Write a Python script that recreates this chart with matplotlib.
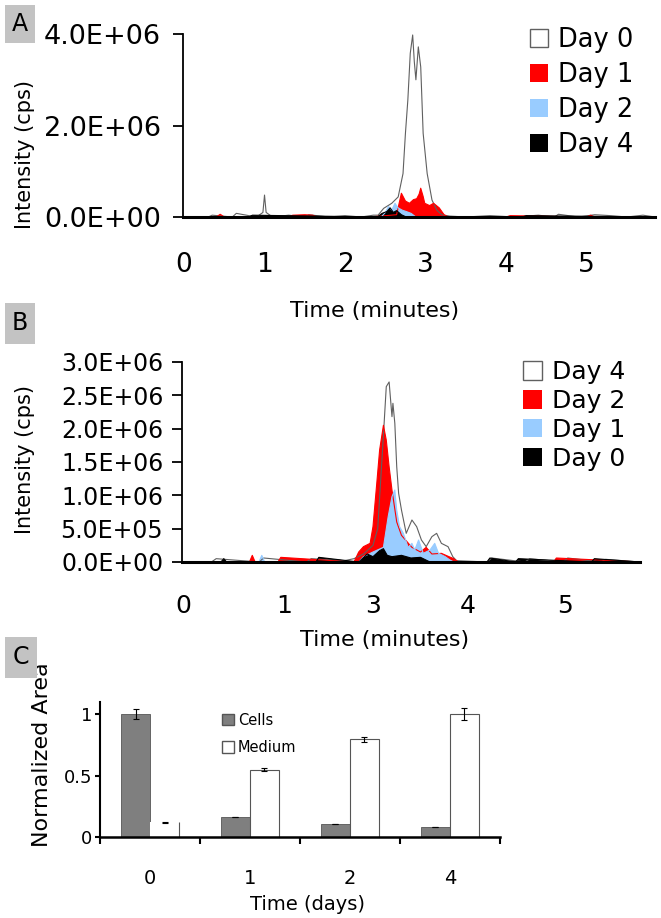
import matplotlib
matplotlib.use("Agg")
import matplotlib.pyplot as plt
from matplotlib.patches import Patch, Rectangle

# ---------------- data (intensities in units of 1E+06 cps) ----------------
# panel A
a_day0_t = [0.0, 0.3, 0.35, 0.6, 0.65, 0.9, 0.98, 1.0, 1.02, 1.1, 1.3, 1.5, 1.55, 1.8, 2.0, 2.2,
            2.35, 2.41, 2.48, 2.58, 2.66, 2.72, 2.75, 2.78, 2.81, 2.84, 2.86, 2.88, 2.91, 2.94,
            2.97, 3.02, 3.08, 3.14, 3.2, 3.3, 3.5, 3.8, 4.1, 4.4, 4.6, 4.65, 4.9, 5.1, 5.3, 5.5,
            5.7, 5.85]
a_day0_v = [0, 0, 0.04, 0, 0.08, 0, 0.1, 0.48, 0.1, 0, 0.04, 0, 0.05, 0, 0.03, 0,
            0.04, 0.04, 0.19, 0.30, 0.44, 0.95, 1.83, 2.56, 3.58, 3.98, 3.4, 3.0, 3.72, 3.28,
            1.83, 0.95, 0.37, 0.15, 0.05, 0.02, 0, 0.03, 0, 0.04, 0, 0.06, 0, 0.05, 0.03, 0,
            0.04, 0]
a_day1_t = [0.0, 0.4, 0.45, 0.5, 1.3, 1.35, 1.5, 1.6, 1.65, 2.3, 2.64, 2.7, 2.75, 2.8, 2.85,
            2.89, 2.92, 2.94, 2.97, 2.99, 3.05, 3.1, 3.17, 3.23, 3.28, 4.0, 4.05, 5.0, 5.05, 5.1, 5.85]
a_day1_v = [0, 0, 0.06, 0, 0, 0.04, 0.05, 0.04, 0, 0, 0.05, 0.52, 0.35, 0.3, 0.38,
            0.4, 0.5, 0.63, 0.45, 0.3, 0.25, 0.3, 0.2, 0.05, 0, 0, 0.03, 0, 0.04, 0, 0]
a_day2_t = [0.0, 2.45, 2.5, 2.54, 2.58, 2.62, 2.66, 2.71, 2.76, 2.82, 2.88, 5.85]
a_day2_v = [0, 0, 0.1, 0.23, 0.15, 0.3, 0.2, 0.15, 0.12, 0.08, 0, 0]
a_day4_t = [0.0, 0.8, 0.85, 2.4, 2.46, 2.52, 2.56, 2.6, 2.64, 2.7, 2.76, 4.2, 4.25, 5.85]
a_day4_v = [0, 0, 0.04, 0, 0.08, 0.12, 0.2, 0.1, 0.14, 0.05, 0, 0, 0.03, 0]

# panel B
b_day4_t = [0.99, 1.3, 1.35, 1.8, 1.85, 2.3, 2.35, 2.7, 2.8, 2.9, 3.0, 3.05, 3.11, 3.14, 3.17,
            3.2, 3.21, 3.23, 3.25, 3.27, 3.3, 3.35, 3.41, 3.46, 3.51, 3.56, 3.62, 3.67, 3.72,
            3.79, 3.84, 3.88, 4.2, 4.25, 4.6, 4.65, 5.0, 5.05, 5.4, 5.45, 5.81]
b_day4_v = [0, 0, 0.05, 0, 0.06, 0, 0.05, 0.02, 0.05, 0.12, 0.25, 0.5, 1.9, 2.63, 2.70,
            2.18, 2.38, 2.08, 1.43, 1.03, 0.78, 0.43, 0.63, 0.53, 0.33, 0.23, 0.38, 0.43, 0.28,
            0.23, 0.08, 0.02, 0, 0.06, 0, 0.05, 0, 0.06, 0, 0.04, 0]
b_day2_t = [0.99, 1.7, 1.73, 1.76, 2.0, 2.03, 2.8, 2.81, 2.85, 2.9, 2.97, 3.0, 3.04, 3.07, 3.11,
            3.14, 3.17, 3.2, 3.25, 3.3, 3.41, 3.5, 3.56, 3.62, 3.72, 3.8, 3.85, 3.9, 4.9, 4.93, 5.81]
b_day2_v = [0, 0, 0.1, 0, 0, 0.07, 0, 0.03, 0.15, 0.23, 0.28, 0.53, 1.18, 1.68, 2.05,
            1.83, 1.43, 1.08, 0.6, 0.4, 0.22, 0.15, 0.22, 0.12, 0.13, 0.08, 0.05, 0, 0, 0.06, 0]
b_day1_t = [0.99, 1.8, 1.83, 1.86, 2.85, 2.9, 3.0, 3.11, 3.16, 3.2, 3.23, 3.25, 3.28, 3.32, 3.37,
            3.41, 3.44, 3.48, 3.53, 3.6, 3.65, 3.69, 3.76, 3.81, 3.85, 5.81]
b_day1_v = [0, 0, 0.1, 0, 0, 0.08, 0.15, 0.22, 0.68, 0.98, 1.08, 0.78, 0.53, 0.43, 0.22,
            0.28, 0.18, 0.33, 0.13, 0.18, 0.28, 0.13, 0.08, 0.03, 0, 0]
b_day0_t = [0.99, 1.4, 1.43, 1.46, 2.4, 2.43, 2.85, 2.94, 3.0, 3.07, 3.11, 3.15, 3.2, 3.3, 3.4,
            3.5, 3.6, 4.2, 4.23, 4.5, 4.53, 5.3, 5.33, 5.81]
b_day0_v = [0, 0, 0.05, 0, 0, 0.07, 0, 0.12, 0.08, 0.17, 0.2, 0.1, 0.08, 0.1, 0.06,
            0.07, 0, 0, 0.06, 0, 0.05, 0, 0.05, 0]

# panel C
days = ["0", "1", "2", "4"]
cells = [1.0, 0.165, 0.107, 0.082]
cells_err = [0.04, 0, 0, 0]
medium = [0.12, 0.55, 0.795, 1.0]
medium_err = [0.005, 0.015, 0.02, 0.05]

a_yticks = [0, 2.0e6, 4.0e6]
a_yticklabels = ["0.0E+00", "2.0E+06", "4.0E+06"]
a_xticks = [0, 1, 2, 3, 4, 5]
b_yticks = [0, 0.5e6, 1.0e6, 1.5e6, 2.0e6, 2.5e6, 3.0e6]
b_yticklabels = ["0.0E+00", "5.0E+05", "1.0E+06", "1.5E+06", "2.0E+06", "2.5E+06", "3.0E+06"]
b_xticks = [1.0, 2.07, 3.0, 4.0, 5.02]
b_xticklabels = ["0", "1", "3", "4", "5"]

RED = "#ff0000"
BLUE = "#99ccff"
OUTLINE = "#606060"
CELLS = "#7f7f7f"


def scale(v):
    return [x * 1e6 for x in v]


fig = plt.figure(figsize=(6.61, 9.18), dpi=100)


def chromatogram(ax, series, xlim, ymax):
    for t, v, face, edge in series:
        ax.fill_between(t, scale(v), 0, facecolor=face, edgecolor="none", lw=0)
        ax.plot(t, scale(v), color=edge, lw=0.8)
    ax.set_xlim(*xlim)
    ax.set_ylim(0, ymax)
    for s in ["top", "right"]:
        ax.spines[s].set_visible(False)
    ax.spines["bottom"].set_linewidth(2.2)
    ax.spines["left"].set_linewidth(1.3)
    ax.spines["bottom"].set_zorder(5)


legend_kw = dict(bbox_transform=fig.transFigure, loc="upper left", frameon=False,
                 borderpad=0, borderaxespad=0)

# ---------------- panel A ----------------
axA = fig.add_axes([0.2769, 0.7636, 0.7141, 0.1993])
chromatogram(axA, [
    (a_day0_t, a_day0_v, "white", OUTLINE),
    (a_day1_t, a_day1_v, RED, RED),
    (a_day2_t, a_day2_v, BLUE, BLUE),
    (a_day4_t, a_day4_v, "black", "black"),
], (-0.012, 5.85), 4.0e6)
axA.set_yticks(a_yticks)
axA.set_yticklabels(a_yticklabels)
axA.set_xticks(a_xticks)
axA.set_xticklabels([str(x) for x in a_xticks])
axA.tick_params(axis="y", length=7, width=1.3, pad=9, labelsize=19.5)
axA.tick_params(axis="x", length=0, pad=25, labelsize=19)
axA.set_xlabel("Time (minutes)", fontsize=16)
axA.xaxis.set_label_coords(0.405, -0.514)
axA.xaxis.label.set_va("center")
axA.set_ylabel("Intensity (cps)", fontsize=15)
axA.yaxis.set_label_coords(-0.335, 0.339)
axA.yaxis.label.set_va("center")
axA.legend(
    [Patch(facecolor="white", edgecolor=OUTLINE), Patch(facecolor=RED), Patch(facecolor=BLUE),
     Patch(facecolor="black")],
    ["Day 0", "Day 1", "Day 2", "Day 4"],
    bbox_to_anchor=(0.8018, 0.9706), fontsize=18.5, handlelength=0.7, handleheight=0.7,
    handletextpad=0.4, labelspacing=0.35, **legend_kw,
)

# ---------------- panel B ----------------
axB = fig.add_axes([0.2753, 0.3878, 0.6929, 0.2179])
chromatogram(axB, [
    (b_day4_t, b_day4_v, "white", OUTLINE),
    (b_day2_t, b_day2_v, RED, RED),
    (b_day1_t, b_day1_v, BLUE, BLUE),
    (b_day0_t, b_day0_v, "black", "black"),
], (0.99, 5.81), 3.0e6)
axB.set_yticks(b_yticks)
axB.set_yticklabels(b_yticklabels)
axB.set_xticks(b_xticks)
axB.set_xticklabels(b_xticklabels)
axB.tick_params(axis="y", length=7, width=1.3, pad=6.5, labelsize=17)
axB.tick_params(axis="x", length=0, pad=23, labelsize=18)
axB.set_xlabel("Time (minutes)", fontsize=16)
axB.xaxis.set_label_coords(0.442, -0.39)
axB.xaxis.label.set_va("center")
axB.set_ylabel("Intensity (cps)", fontsize=15)
axB.yaxis.set_label_coords(-0.343, 0.51)
axB.yaxis.label.set_va("center")
axB.legend(
    [Patch(facecolor="white", edgecolor=OUTLINE), Patch(facecolor=RED), Patch(facecolor=BLUE),
     Patch(facecolor="black")],
    ["Day 4", "Day 2", "Day 1", "Day 0"],
    bbox_to_anchor=(0.7912, 0.6074), fontsize=18, handlelength=0.76, handleheight=0.76,
    handletextpad=0.4, labelspacing=0.19, **legend_kw,
)

# ---------------- panel C ----------------
axC = fig.add_axes([0.1513, 0.0882, 0.6051, 0.1471])
x = list(range(len(days)))
w = 0.29
bc = axC.bar([i - w / 2 for i in x], cells, w, color=CELLS, edgecolor="#555555", lw=0.6,
             yerr=cells_err, error_kw=dict(lw=0.8, capsize=2.5, capthick=0.8), label="Cells")
bm = axC.bar([i + w / 2 for i in x], medium, w, color="white", edgecolor="#555555", lw=0.8,
             yerr=medium_err, error_kw=dict(lw=0.8, capsize=2.5, capthick=0.8), label="Medium")
# day 0 medium bar only shows its right edge in the original
p0 = bm.patches[0]
p0.set_edgecolor("none")
axC.vlines(p0.get_x() + p0.get_width(), 0, p0.get_height(), color="#555555", lw=0.8)
axC.set_xlim(-0.5, 3.5)
axC.set_ylim(0, 1.1)
axC.set_yticks([0, 0.5, 1])
axC.set_yticklabels(["0", "0.5", "1"])
axC.set_xticks(x)
axC.set_xticklabels(days)
axC.set_xticks([-0.5, 0.5, 1.5, 2.5, 3.5], minor=True)
axC.tick_params(axis="x", which="major", length=0, pad=23, labelsize=14)
axC.tick_params(axis="x", which="minor", length=5, width=1.5, direction="out")
axC.tick_params(axis="y", length=3.6, width=1.5, pad=2, labelsize=13)
for s in ["top", "right"]:
    axC.spines[s].set_visible(False)
axC.spines["bottom"].set_linewidth(1.8)
axC.spines["left"].set_linewidth(1.5)
axC.set_xlabel("Time (days)", fontsize=14)
axC.xaxis.set_label_coords(0.518, -0.496)
axC.xaxis.label.set_va("center")
axC.set_ylabel("Normalized Area", fontsize=16)
axC.yaxis.set_label_coords(-0.145, 0.607)
axC.yaxis.label.set_va("center")
axC.legend(
    [Patch(facecolor=CELLS, edgecolor="#555555"), Patch(facecolor="white", edgecolor="#555555")],
    ["Cells", "Medium"],
    bbox_to_anchor=(0.336, 0.2237), fontsize=10.5, handlelength=0.82, handleheight=0.82,
    handletextpad=0.27, labelspacing=0.84, **legend_kw,
)

# ---------------- panel letters ----------------
for letter, x0, y0, x1, y1 in [("A", 5, 5, 35, 43), ("B", 5, 303, 35, 344), ("C", 5, 637, 37, 678)]:
    fig.add_artist(Rectangle((x0 / 661, 1 - y1 / 918), (x1 - x0) / 661, (y1 - y0) / 918,
                             transform=fig.transFigure, facecolor="#c3c3c3", edgecolor="none"))
    fig.text((x0 + x1) / 2 / 661, 1 - (y0 + y1) / 2 / 918, letter, ha="center", va="center",
             fontsize=17)

fig.savefig("out.png", dpi=100)
